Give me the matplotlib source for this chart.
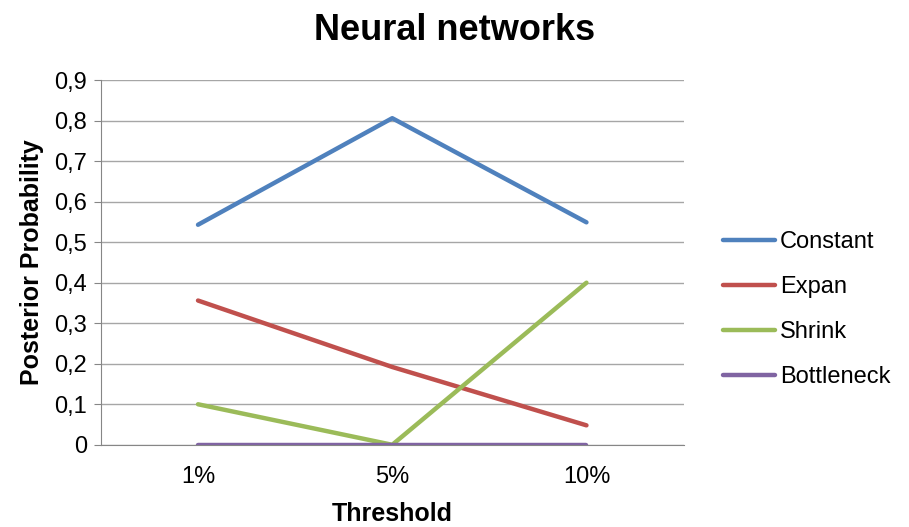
import matplotlib
matplotlib.use("Agg")
import matplotlib.pyplot as plt

plt.rcParams['font.family'] = ['Liberation Sans', 'DejaVu Sans']

thresholds = ["1%", "5%", "10%"]
constant = [0.543, 0.806, 0.549]
expan = [0.356, 0.192, 0.048]
shrink = [0.10, 0.0, 0.40]
bottleneck = [0.0, 0.0, 0.0]

series = [("Constant", constant, "#4F81BD"),
          ("Expan", expan, "#C0504D"),
          ("Shrink", shrink, "#9BBB59"),
          ("Bottleneck", bottleneck, "#8064A2")]

fig = plt.figure(figsize=(9.09, 5.27), dpi=100)
ax = fig.add_axes([0.111, 0.156, 0.641, 0.692])

x = range(len(thresholds))
for name, vals, col in series:
    ax.plot(x, vals, color=col, lw=3.2, label=name, solid_capstyle='round', zorder=3)

ax.set_xlim(-0.5, 2.5)
ax.set_ylim(0, 0.9)
ax.set_yticks([i / 10 for i in range(10)])
ax.set_yticklabels(["0"] + ["0,%d" % i for i in range(1, 10)])
ax.set_xticks(list(x))
ax.set_xticklabels(thresholds)

ax.grid(axis='y', color='#A6A6A6', lw=1)
ax.set_axisbelow(True)
for s in ['top', 'right']:
    ax.spines[s].set_visible(False)
ax.spines['left'].set_color('#868686')
ax.spines['bottom'].set_color('#868686')
ax.tick_params(axis='y', length=5, color='#868686', labelsize=17, pad=5)
ax.tick_params(axis='x', length=0, labelsize=17, pad=15)

ax.set_xlabel("Threshold", fontsize=18, fontweight='bold', labelpad=10)
ax.set_ylabel("Posterior Probability", fontsize=18, fontweight='bold', labelpad=7)
fig.suptitle("Neural networks", fontsize=26, fontweight='bold', y=0.975)

ax.legend(loc='center left', bbox_to_anchor=(1.032, 0.371), frameon=False,
          fontsize=17, handlelength=2.2, handletextpad=0.2, labelspacing=0.98)

fig.savefig("out.png", dpi=100, facecolor='white')
